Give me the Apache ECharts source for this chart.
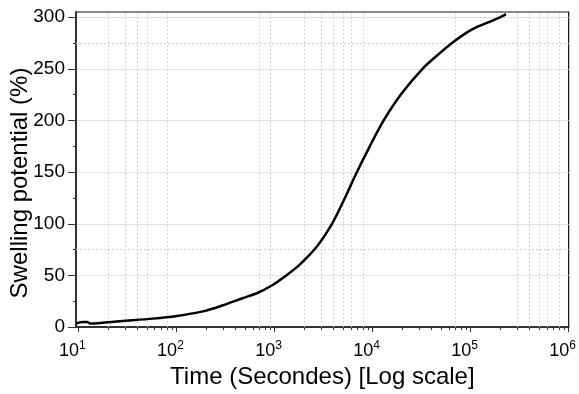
<!DOCTYPE html>
<html>
<head>
<meta charset="utf-8">
<script src="https://cdn.jsdelivr.net/npm/echarts@6/dist/echarts.min.js"></script>
<style>
  html, body { margin: 0; padding: 0; background: #fff; }
  #chart { width: 579px; height: 394px; }
</style>
</head>
<body>
<div id="chart"></div>
<script>
// Swelling potential measured over time (seconds, log axis)
const timeSec = [9.5, 11, 12.3, 13.2, 16.7, 26.7, 57.6, 101, 185, 275, 472, 669,
  928, 1317, 1784, 2654, 3857, 5104, 6754, 9368, 12990, 19780, 32300, 46930,
  66600, 94600, 119400, 150800, 190500, 229600];
const swellingPct = [3.5, 5, 5, 3.5, 4, 5.7, 8.2, 10.8, 15.2, 20, 27.9, 33,
  40, 50, 60, 77, 100, 123, 148, 175, 200, 226, 250, 264,
  276, 286, 291, 295, 299, 303];

// Axis ticks
const xMajorTicks = [10, 100, 1000, 10000, 100000, 1000000];
const yMajorTicks = [0, 50, 100, 150, 200, 250, 300];
const yMinorTicks = [25, 75, 125, 175, 225, 275];
// Dotted reference lines
const xDottedLines = [20, 30, 40, 50, 80, 700, 900, 2000, 3000, 4000, 5000, 6000,
  8000, 70000, 300000, 400000, 500000, 600000, 800000];
const yDottedLines = [75, 275];

const xMinorTicks = [];
for (let k = 1; k < 6; k++) {
  for (let m = 2; m <= 9; m++) xMinorTicks.push(m * Math.pow(10, k));
}

const FONT = '"Liberation Sans", Arial, sans-serif';
const X_MIN = 9.45, X_MAX = 1e6, Y_MIN = 0, Y_MAX = 305;

const chart = echarts.init(document.getElementById('chart'), null, { renderer: 'canvas' });

const powerLabel = (v) => {
  const e = Math.round(Math.log10(v));
  return '{b|10}{s|' + e + '}';
};

chart.setOption({
  animation: false,
  backgroundColor: '#fff',
  grid: {
    left: 76, right: 8, top: 12, bottom: 62,
    show: true, borderColor: '#111', borderWidth: 1.2, backgroundColor: 'transparent'
  },
  xAxis: [
    {
      type: 'log', min: X_MIN, max: X_MAX, position: 'bottom',
      axisLine: { show: true, lineStyle: { color: '#333', width: 2 } },
      axisTick: { show: true, customValues: xMajorTicks, length: 5, lineStyle: { color: '#333', width: 1 } },
      axisLabel: {
        customValues: xMajorTicks,
        margin: 13,
        padding: [0, 12, 0, 0],
        formatter: powerLabel,
        rich: {
          b: { fontFamily: FONT, fontSize: 18, color: '#000', lineHeight: 20, verticalAlign: 'bottom' },
          s: { fontFamily: FONT, fontSize: 12, color: '#000', lineHeight: 12, verticalAlign: 'top' }
        }
      },
      splitLine: { show: false },
      name: 'Time (Secondes) [Log scale]',
      nameLocation: 'middle',
      nameGap: 33,
      nameTextStyle: { fontFamily: FONT, fontSize: 24, color: '#000' }
    },
    {
      type: 'log', min: X_MIN, max: X_MAX, position: 'bottom',
      axisLine: { show: false },
      axisTick: { show: true, customValues: xMinorTicks, length: 3, lineStyle: { color: '#333', width: 1 } },
      axisLabel: { show: false },
      splitLine: { show: false }
    }
  ],
  yAxis: [
    {
      type: 'value', min: Y_MIN, max: Y_MAX, interval: 50, position: 'left',
      axisLine: { show: true, lineStyle: { color: '#333', width: 2 } },
      axisTick: { show: true, customValues: yMajorTicks, length: 8, lineStyle: { color: '#333', width: 1 } },
      axisLabel: {
        customValues: yMajorTicks,
        margin: 11,
        fontFamily: FONT, fontSize: 19, color: '#000'
      },
      splitLine: { show: true, lineStyle: { color: '#e0e0e0', width: 1 } }
    },
    {
      type: 'value', min: Y_MIN, max: Y_MAX, position: 'left',
      axisLine: { show: false },
      axisTick: { show: true, customValues: yMinorTicks, length: 3, lineStyle: { color: '#333', width: 1 } },
      axisLabel: { show: false },
      splitLine: { show: false }
    }
  ],
  graphic: [
    {
      type: 'text',
      x: 20, y: 183,
      rotation: Math.PI / 2,
      style: {
        text: 'Swelling potential (%)',
        fontFamily: FONT, fontSize: 24, fill: '#000',
        align: 'center', verticalAlign: 'middle'
      }
    }
  ],
  series: [
    {
      type: 'line',
      xAxisIndex: 0, yAxisIndex: 0,
      data: timeSec.map((t, i) => [t, swellingPct[i]]),
      showSymbol: false,
      smooth: 0.3,
      lineStyle: { color: '#000', width: 2.5 },
      z: 5,
      markLine: {
        silent: true,
        symbol: 'none',
        label: { show: false },
        lineStyle: { color: '#d2d2d2', type: [2, 2], width: 1 },
        data: xDottedLines.map(v => ({ xAxis: v })).concat(yDottedLines.map(v => ({ yAxis: v })))
      }
    }
  ]
});
</script>
</body>
</html>
